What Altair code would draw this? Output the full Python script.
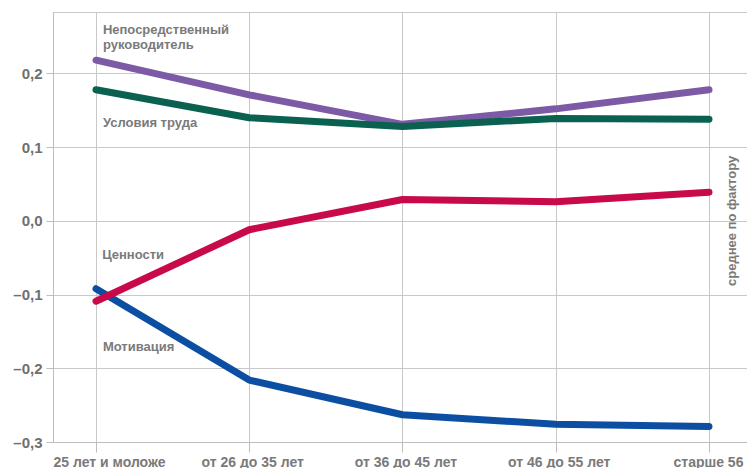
import json
import altair as alt
import pandas as pd

categories = ["25 лет и моложе", "от 26 до 35 лет", "от 36 до 45 лет", "от 46 до 55 лет", "старше 56"]
rukovoditel = [0.218, 0.171, 0.131, 0.152, 0.178]
usloviya = [0.178, 0.140, 0.128, 0.139, 0.138]
tsennosti = [-0.109, -0.012, 0.029, 0.026, 0.039]
motivatsiya = [-0.092, -0.216, -0.263, -0.276, -0.279]

series_names = ["Мотивация", "Ценности", "Непосредственный руководитель", "Условия труда"]
series_values = [motivatsiya, tsennosti, rukovoditel, usloviya]
series_colors = ["#0b4ea2", "#c80a4b", "#7d5aa6", "#0a6150"]

label_texts = [["Непосредственный", "руководитель"], ["Условия труда"], ["Ценности"], ["Мотивация"]]
label_x = [0.045, 0.045, 0.04, 0.045]
label_y = [0.2595, 0.133, -0.046, -0.171]

axis_title = "среднее по фактору"

FONT = "Liberation Sans"
GRAY = "#7a7a7a"

xscale = alt.Scale(domain=[-0.2806, 4.248], nice=False, zero=False)
yscale = alt.Scale(domain=[-0.3, 0.2834], nice=False, zero=False)

x_label_expr = json.dumps(categories, ensure_ascii=False) + "[datum.value]"

layers = []
for i, (name, vals, col) in enumerate(zip(series_names, series_values, series_colors)):
    df = pd.DataFrame({"idx": list(range(len(categories))), "value": vals, "series": name})
    if i == 0:
        enc_x = alt.X("idx:Q", scale=xscale,
                      axis=alt.Axis(values=[0, 1, 2, 3, 4], labelExpr=x_label_expr, title=None,
                                    grid=True, gridColor="#c8c8c8", tickColor="#bdbdbd", tickSize=10,
                                    domainColor="#bdbdbd", labelFont=FONT, labelFontSize=14,
                                    labelFontWeight="bold", labelColor=GRAY, labelPadding=3,
                                    labelAlign={"condition": {"test": "datum.value == 0", "value": "left"}, "value": "center"},
                                    labelOffset={"condition": [
                                        {"test": "datum.value == 0", "value": -43},
                                        {"test": "datum.value == 4", "value": -1}], "value": 3}))
        enc_y = alt.Y("value:Q", scale=yscale,
                      axis=alt.Axis(values=[-0.3, -0.2, -0.1, 0, 0.1, 0.2],
                                    labelExpr="(datum.value < 0 ? '–' : '') + replace(format(abs(datum.value), '.1f'), '.', ',')",
                                    title=None, grid=True, gridColor="#c8c8c8", tickColor="#bdbdbd",
                                    tickSize=7, domainColor="#bdbdbd", labelFont=FONT, labelFontSize=15,
                                    labelFontWeight="bold", labelColor="#6f6f6f", labelPadding=4))
    else:
        enc_x = alt.X("idx:Q", scale=xscale)
        enc_y = alt.Y("value:Q", scale=yscale)
    layers.append(
        alt.Chart(df).mark_line(color=col, strokeWidth=7, strokeCap="round", strokeJoin="round")
        .encode(x=enc_x, y=enc_y)
    )

lab_df = pd.DataFrame({"x": label_x, "y": label_y, "t": label_texts})
labels = alt.Chart(lab_df).mark_text(
    align="left", baseline="middle", font=FONT, fontSize=13, fontWeight="bold",
    color=GRAY, lineHeight=15
).encode(x=alt.X("x:Q", scale=xscale), y=alt.Y("y:Q", scale=yscale), text="t")

title_df = pd.DataFrame({"x": [4.15], "y": [0.0], "t": [axis_title]})
ytitle = alt.Chart(title_df).mark_text(
    angle=270, align="center", baseline="middle", font=FONT, fontSize=13, fontWeight="bold", color=GRAY
).encode(x=alt.X("x:Q", scale=xscale), y=alt.Y("y:Q", scale=yscale), text="t")

chart = alt.layer(*layers, labels, ytitle).properties(
    width=694, height=430,
    padding={"left": 53, "top": 12, "right": 0, "bottom": 26},
    autosize="none",
    background="white",
).configure_view(stroke="#c8c8c8", strokeWidth=1)

chart.save("out.html", embed_options={"renderer": "svg", "actions": False})
